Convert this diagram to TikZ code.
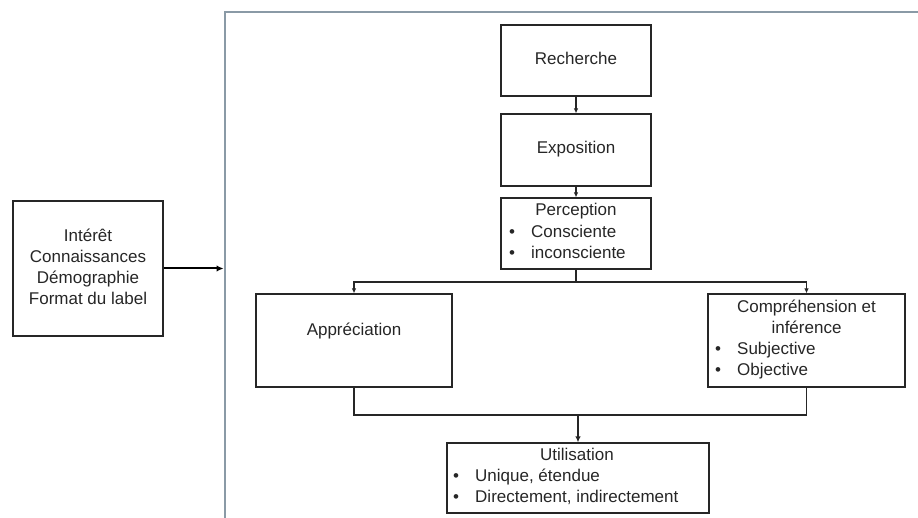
\documentclass[tikz,border=0pt]{standalone}
\usepackage{fontspec}
\setmainfont{Liberation Sans}
\usetikzlibrary{arrows.meta}
\definecolor{framegray}{RGB}{138,154,166}
\definecolor{ink}{RGB}{38,38,38}
% bullet item with a fixed indent before the text
\newcommand\blt[1]{\makebox[22pt][l]{\textbullet}#1}

\begin{document}
\begin{tikzpicture}[x=1pt,y=-1pt,
  box/.style={draw=ink, line width=1.2pt, inner sep=0pt},
  txt/.style={inner sep=0pt, font=\fontsize{17}{21}\selectfont, text=ink},
  link/.style={draw=ink, line width=1.1pt},
  arr/.style={link, -{Latex[length=5pt,width=4.5pt]}},
  arrbold/.style={draw=ink, line width=1.6pt, -{Latex[length=6pt,width=5.5pt]}},
  arrside/.style={draw=black, line width=2pt, -{Latex[length=7pt,width=6.5pt]}, shorten >=1.5pt}]

\useasboundingbox (0,0) rectangle (918,518);

% open frame around the process
\coordinate (cadre) at (225,12);
\draw[framegray, line width=2pt] (225,519) -- (cadre) -- (919,12);

% influencing factors
\node[box, minimum width=150pt, minimum height=135pt] (facteurs) at (88,268.5) {};
\node[txt, anchor=base] (facteurs-t) at (88,241.7)
  {\begin{tabular}[t]{@{}c@{}}Intérêt\\Connaissances\\Démographie\\Format du label\end{tabular}};

% main chain
\node[box, minimum width=150pt, minimum height=71pt] (recherche) at (576,60.5) {};
\node[txt, anchor=base] (recherche-t) at (576,65) {Recherche};

\node[box, minimum width=150pt, minimum height=72pt] (exposition) at (576,150) {};
\node[txt, anchor=base] (exposition-t) at (576,154) {Exposition};

\node[box, minimum width=150pt, minimum height=71pt] (perception) at (576,233.5) {};
\node[txt, anchor=base] (perception-t) at (576,216) {Perception};
\node[txt, anchor=base west] (perception-l) at (509,238)
  {\begin{tabular}[t]{@{}l@{}}\blt{Consciente}\\\blt{inconsciente}\end{tabular}};

\node[box, minimum width=196pt, minimum height=93pt] (appreciation) at (354,340.5) {};
\node[txt, anchor=base] (appreciation-t) at (354,335.7) {Appréciation};

\node[box, minimum width=197pt, minimum height=93pt] (comprehension) at (806.5,340.5) {};
\node[txt, anchor=base] (comprehension-t) at (806.5,313)
  {\begin{tabular}[t]{@{}c@{}}Compréhension et\\inférence\end{tabular}};
\node[txt, anchor=base west] (comprehension-l) at (715,355)
  {\begin{tabular}[t]{@{}l@{}}\blt{Subjective}\\\blt{Objective}\end{tabular}};

\node[box, minimum width=262pt, minimum height=70pt] (utilisation) at (578,478) {};
\node[txt, anchor=base] (utilisation-t) at (577,460) {Utilisation};
\node[txt, anchor=base west] (utilisation-l) at (453,481.7)
  {\begin{tabular}[t]{@{}l@{}}\blt{Unique, étendue}\\\blt{Directement, indirectement}\end{tabular}};

% connectors
\draw[arrside] (facteurs.east) -- (facteurs.east -| cadre);
\draw[arr] (recherche) -- (exposition);
\draw[arr] (exposition) -- (perception);

\coordinate (split) at (576,282);
\draw[link] (perception.south) -- (split);
\draw[arr] (split) -| (appreciation.north);
\draw[arr] (split) -| (comprehension.north);

\coordinate (merge) at (578,415);
\draw[link] (appreciation.south) |- (merge) -| (comprehension.south);
\draw[arrbold] (merge) -- (utilisation.north);
\end{tikzpicture}
\end{document}
